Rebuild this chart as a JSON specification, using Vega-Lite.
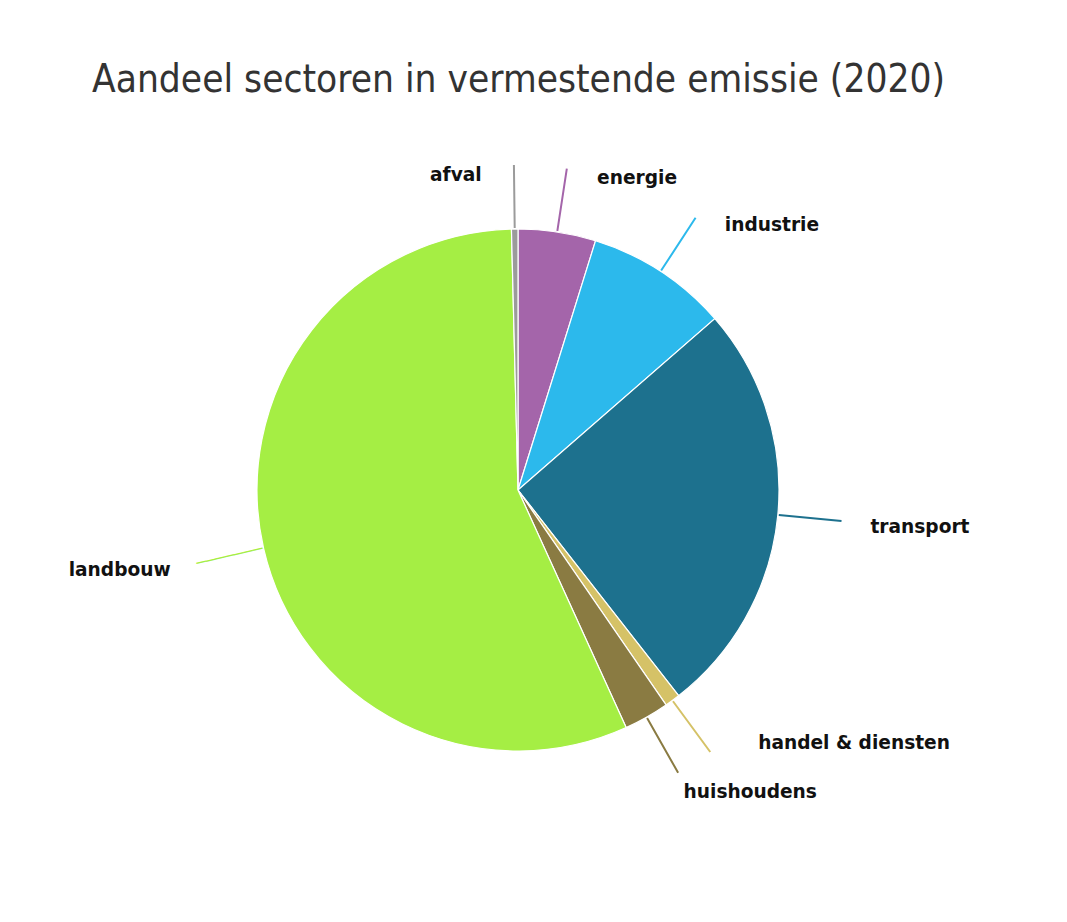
{
  "$schema": "https://vega.github.io/schema/vega-lite/v6.json",
  "autosize": {"type": "none"},
  "padding": {"left": 168, "top": 140, "right": 199, "bottom": 82},
  "width": 700,
  "height": 700,
  "background": "white",
  "config": {"view": {"stroke": null}},
  "title": {
    "text": "Aandeel sectoren in vermestende emissie (2020)",
    "anchor": "start",
    "frame": "group",
    "font": "Liberation Sans Narrow, DejaVu Sans Condensed, Roboto Condensed, Roboto",
    "fontSize": 38.5,
    "fontWeight": 300,
    "color": "#333333",
    "baseline": "alphabetic",
    "dx": -76,
    "dy": 62,
    "offset": 52
  },
  "data": {
    "values": [
      {"sector": "energie", "share": 4.8, "rank": 1},
      {"sector": "industrie", "share": 8.8, "rank": 2},
      {"sector": "transport", "share": 25.85, "rank": 3},
      {"sector": "handel & diensten", "share": 0.95, "rank": 4},
      {"sector": "huishoudens", "share": 2.8, "rank": 5},
      {"sector": "landbouw", "share": 56.4, "rank": 6},
      {"sector": "afval", "share": 0.4, "rank": 7}
    ]
  },
  "layer": [
    {
      "mark": {"type": "arc", "radius": 261, "stroke": "white", "strokeWidth": 1.2},
      "encoding": {
        "theta": {"field": "share", "type": "quantitative", "stack": true},
        "order": {"field": "rank", "type": "quantitative"},
        "color": {
          "field": "sector", "type": "nominal", "legend": null,
          "scale": {
            "domain": ["energie", "industrie", "transport", "handel & diensten", "huishoudens", "landbouw", "afval"],
            "range": ["#a465aa", "#2cb9ec", "#1d718e", "#d5c267", "#8a7b42", "#a5ee44", "#9b9b9b"]
          }
        }
      }
    },
    {
      "mark": {"type": "arc", "filled": false, "radius": 325, "radius2": 262, "padAngle": 3, "strokeWidth": 2},
      "encoding": {
        "theta": {"field": "share", "type": "quantitative", "stack": true},
        "order": {"field": "rank", "type": "quantitative"},
        "color": {"field": "sector", "type": "nominal", "legend": null},
        "strokeOpacity": {"condition": {"test": "datum.sector === 'landbouw'", "value": 0}, "value": 1}
      }
    },
    {
      "mark": {"type": "text", "radius": 296, "align": "center", "baseline": "middle", "angle": -13, "font": "DejaVu Sans", "fontSize": 16, "color": "#a5ee44"},
      "encoding": {
        "theta": {"field": "share", "type": "quantitative", "stack": true},
        "order": {"field": "rank", "type": "quantitative"},
        "detail": {"field": "sector", "type": "nominal"},
        "text": {"condition": {"test": "datum.sector === 'landbouw'", "value": "───────"}, "value": ""}
      }
    },
    {
      "mark": {"type": "text", "radius": 340, "align": "right", "baseline": "middle", "dx": -32, "dy": 25, "font": "DejaVu Sans", "fontWeight": "bold", "fontSize": 18.6, "color": "#111111"},
      "encoding": {
        "theta": {"field": "share", "type": "quantitative", "stack": true},
        "order": {"field": "rank", "type": "quantitative"},
        "detail": {"field": "sector", "type": "nominal"},
        "text": {"condition": {"test": "datum.sector === 'afval'", "field": "sector"}, "value": ""}
      }
    },
    {
      "mark": {"type": "text", "radius": 340, "align": "left", "baseline": "middle", "dx": 28, "dy": 24, "font": "DejaVu Sans", "fontWeight": "bold", "fontSize": 18.6, "color": "#111111"},
      "encoding": {
        "theta": {"field": "share", "type": "quantitative", "stack": true},
        "order": {"field": "rank", "type": "quantitative"},
        "detail": {"field": "sector", "type": "nominal"},
        "text": {"condition": {"test": "datum.sector === 'energie'", "field": "sector"}, "value": ""}
      }
    },
    {
      "mark": {"type": "text", "radius": 340, "align": "left", "baseline": "middle", "dx": 21, "dy": 20, "font": "DejaVu Sans", "fontWeight": "bold", "fontSize": 18.6, "color": "#111111"},
      "encoding": {
        "theta": {"field": "share", "type": "quantitative", "stack": true},
        "order": {"field": "rank", "type": "quantitative"},
        "detail": {"field": "sector", "type": "nominal"},
        "text": {"condition": {"test": "datum.sector === 'industrie'", "field": "sector"}, "value": ""}
      }
    },
    {
      "mark": {"type": "text", "radius": 340, "align": "left", "baseline": "middle", "dx": 14, "dy": 4, "font": "DejaVu Sans", "fontWeight": "bold", "fontSize": 18.6, "color": "#111111"},
      "encoding": {
        "theta": {"field": "share", "type": "quantitative", "stack": true},
        "order": {"field": "rank", "type": "quantitative"},
        "detail": {"field": "sector", "type": "nominal"},
        "text": {"condition": {"test": "datum.sector === 'transport'", "field": "sector"}, "value": ""}
      }
    },
    {
      "mark": {"type": "text", "radius": 340, "align": "left", "baseline": "middle", "dx": 39, "dy": -21, "font": "DejaVu Sans", "fontWeight": "bold", "fontSize": 18.6, "color": "#111111"},
      "encoding": {
        "theta": {"field": "share", "type": "quantitative", "stack": true},
        "order": {"field": "rank", "type": "quantitative"},
        "detail": {"field": "sector", "type": "nominal"},
        "text": {"condition": {"test": "datum.sector === 'handel & diensten'", "field": "sector"}, "value": ""}
      }
    },
    {
      "mark": {"type": "text", "radius": 340, "align": "left", "baseline": "middle", "dx": -2, "dy": 6, "font": "DejaVu Sans", "fontWeight": "bold", "fontSize": 18.6, "color": "#111111"},
      "encoding": {
        "theta": {"field": "share", "type": "quantitative", "stack": true},
        "order": {"field": "rank", "type": "quantitative"},
        "detail": {"field": "sector", "type": "nominal"},
        "text": {"condition": {"test": "datum.sector === 'huishoudens'", "field": "sector"}, "value": ""}
      }
    },
    {
      "mark": {"type": "text", "radius": 340, "align": "right", "baseline": "middle", "dx": -16, "dy": 4, "font": "DejaVu Sans", "fontWeight": "bold", "fontSize": 18.6, "color": "#111111"},
      "encoding": {
        "theta": {"field": "share", "type": "quantitative", "stack": true},
        "order": {"field": "rank", "type": "quantitative"},
        "detail": {"field": "sector", "type": "nominal"},
        "text": {"condition": {"test": "datum.sector === 'landbouw'", "field": "sector"}, "value": ""}
      }
    }
  ]
}
